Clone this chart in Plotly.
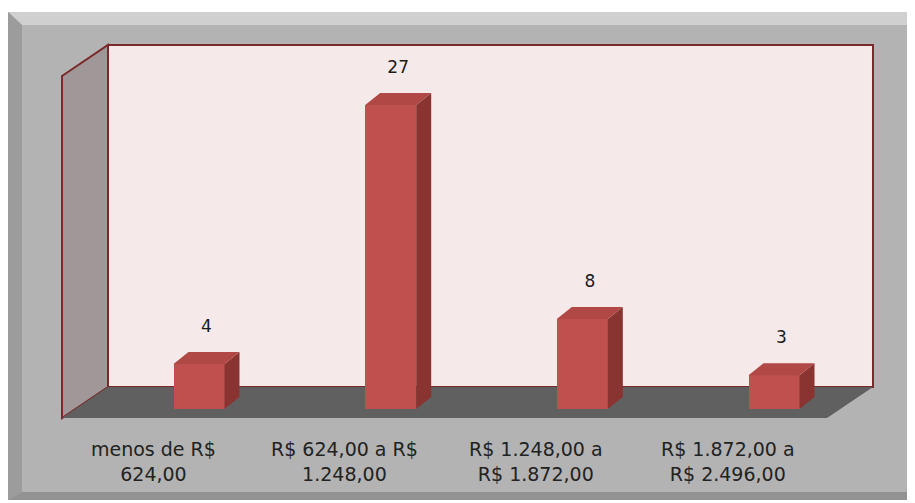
import plotly.graph_objects as go

categories = ["menos de R$<br>624,00", "R$ 624,00 a R$<br>1.248,00",
              "R$ 1.248,00 a<br>R$ 1.872,00", "R$ 1.872,00 a<br>R$ 2.496,00"]
values = [4, 27, 8, 3]

# page body has an 8px default margin: figure starts at reference pixel (8, 8)
OFF = 8
W, H = 915, 503
PX_X0, PX_DX = 199.0, 191.67   # reference pixel of category 0, pixels per category
PX_Y0, PX_DY = 409.0, 11.259   # reference pixel of value 0, pixels per unit

xr = [(OFF - PX_X0) / PX_DX, (OFF + W - PX_X0) / PX_DX]
yr = [-(OFF + H - PX_Y0) / PX_DY, (PX_Y0 - OFF) / PX_DY]

def px(x):
    return (x - OFF) / W

def py(y):
    return 1 - (y - OFF) / H

bw = 51 / PX_DX          # bar front width
ddx = 15 / PX_DX         # depth offset x
ddy = 12 / PX_DY         # depth offset y

xs = list(range(len(values)))

fig = go.Figure()

for i, v in zip(xs, values):
    xl, xrt = i - bw / 2, i + bw / 2
    fig.add_trace(go.Scatter(
        x=[xrt, xrt + ddx, xrt + ddx, xrt, xrt],
        y=[0, ddy, v + ddy, v, 0],
        fill="toself", fillcolor="#8a3432", mode="lines",
        line=dict(width=0), hoverinfo="skip", showlegend=False))
    fig.add_trace(go.Scatter(
        x=[xl, xrt, xrt + ddx, xl + ddx, xl],
        y=[v, v, v + ddy, v + ddy, v],
        fill="toself", fillcolor="#b04946", mode="lines",
        line=dict(width=0), hoverinfo="skip", showlegend=False))

fig.add_trace(go.Bar(
    x=xs, y=values, width=bw, marker=dict(color="#c0504d", line=dict(width=0)),
    hoverinfo="skip", showlegend=False))

fig.add_trace(go.Scatter(
    x=[i + ddx / 2 for i in xs], y=[v + 3.25 for v in values],
    text=[str(v) for v in values], mode="text", textposition="middle center",
    textfont=dict(family="DejaVu Sans", size=17, color="#1a1a1a"),
    hoverinfo="skip", showlegend=False))

shapes = []
shapes.append(dict(type="rect", xref="paper", yref="paper", x0=px(8), x1=1, y0=py(500), y1=py(12),
                   fillcolor="#b3b3b3", line=dict(width=0), layer="below"))
shapes.append(dict(type="path", xref="paper", yref="paper",
                   path=f"M {px(8)},{py(12)} L 1,{py(12)} L 1,{py(25)} L {px(22)},{py(25)} Z",
                   fillcolor="#d0d0d0", line=dict(width=0), layer="below"))
shapes.append(dict(type="path", xref="paper", yref="paper",
                   path=f"M {px(8)},{py(12)} L {px(22)},{py(25)} L {px(22)},{py(492)} L {px(8)},{py(500)} Z",
                   fillcolor="#9c9c9c", line=dict(width=0), layer="below"))
shapes.append(dict(type="path", xref="paper", yref="paper",
                   path=f"M {px(8)},{py(500)} L {px(22)},{py(492)} L 1,{py(492)} L 1,{py(500)} Z",
                   fillcolor="#929292", line=dict(width=0), layer="below"))
shapes.append(dict(type="rect", xref="paper", yref="paper", x0=px(108), x1=px(873), y0=py(387), y1=py(45),
                   fillcolor="#f5e9e9", line=dict(color="#7a2a2a", width=2), layer="below"))
shapes.append(dict(type="path", xref="paper", yref="paper",
                   path=f"M {px(62)},{py(76)} L {px(108)},{py(45)} L {px(108)},{py(387)} L {px(62)},{py(418)} Z",
                   fillcolor="#a09898", line=dict(color="#7a2a2a", width=2), layer="below"))
shapes.append(dict(type="path", xref="paper", yref="paper",
                   path=f"M {px(62)},{py(418)} L {px(108)},{py(387)} L {px(873)},{py(387)} L {px(827)},{py(418)} Z",
                   fillcolor="#606060", line=dict(width=0), layer="below"))

annotations = []
for i, c in zip(xs, categories):
    annotations.append(dict(x=i - 0.24, y=py(461.5), xref="x", yref="paper", text=c, showarrow=False,
                            xanchor="center", yanchor="middle",
                            font=dict(family="DejaVu Sans", size=19, color="#222222")))

fig.update_layout(
    width=W, height=H, autosize=False,
    margin=dict(l=0, r=0, t=0, b=0),
    paper_bgcolor="white", plot_bgcolor="rgba(0,0,0,0)",
    xaxis=dict(range=xr, visible=False, fixedrange=True),
    yaxis=dict(range=yr, visible=False, fixedrange=True),
    shapes=shapes, annotations=annotations,
    bargap=0,
)

fig.write_html("out.html")
